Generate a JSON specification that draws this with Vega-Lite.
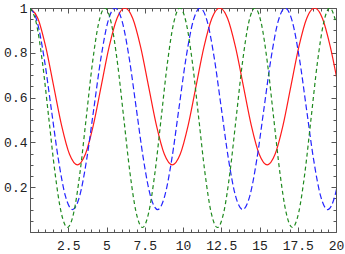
{
  "$schema": "https://vega.github.io/schema/vega-lite/v6.json",
  "width": 306,
  "height": 224,
  "autosize": "none",
  "padding": {"left": 30, "top": 8, "right": 9, "bottom": 22},
  "background": "white",
  "config": {
    "view": {"stroke": "#555", "strokeWidth": 1},
    "axis": {"grid": false, "domain": false, "title": null, "tickColor": "#555", "labelFont": "Liberation Mono", "labelFontSize": 13, "labelColor": "#222", "labelFlush": false, "labelOverlap": false, "labelBound": false}
  },
  "data": {"values": [
    {"s":"r","t":0,"v":1},{"s":"r","t":0.517,"v":0.953},{"s":"r","t":1.033,"v":0.825},{"s":"r","t":1.55,"v":0.65},{"s":"r","t":2.067,"v":0.475},{"s":"r","t":2.583,"v":0.347},{"s":"r","t":3.1,"v":0.3},{"s":"r","t":3.617,"v":0.347},{"s":"r","t":4.133,"v":0.475},{"s":"r","t":4.65,"v":0.65},{"s":"r","t":5.167,"v":0.825},{"s":"r","t":5.683,"v":0.953},
    {"s":"r","t":6.2,"v":1},{"s":"r","t":6.717,"v":0.953},{"s":"r","t":7.233,"v":0.825},{"s":"r","t":7.75,"v":0.65},{"s":"r","t":8.267,"v":0.475},{"s":"r","t":8.783,"v":0.347},{"s":"r","t":9.3,"v":0.3},{"s":"r","t":9.817,"v":0.347},{"s":"r","t":10.333,"v":0.475},{"s":"r","t":10.85,"v":0.65},{"s":"r","t":11.367,"v":0.825},{"s":"r","t":11.883,"v":0.953},
    {"s":"r","t":12.4,"v":1},{"s":"r","t":12.917,"v":0.953},{"s":"r","t":13.433,"v":0.825},{"s":"r","t":13.95,"v":0.65},{"s":"r","t":14.467,"v":0.475},{"s":"r","t":14.983,"v":0.347},{"s":"r","t":15.5,"v":0.3},{"s":"r","t":16.017,"v":0.347},{"s":"r","t":16.533,"v":0.475},{"s":"r","t":17.05,"v":0.65},{"s":"r","t":17.567,"v":0.825},{"s":"r","t":18.083,"v":0.953},
    {"s":"r","t":18.6,"v":1},{"s":"r","t":19.117,"v":0.953},{"s":"r","t":19.633,"v":0.825},{"s":"r","t":20.15,"v":0.65},
    {"s":"b","t":0,"v":1},{"s":"b","t":0.463,"v":0.94},{"s":"b","t":0.927,"v":0.775},{"s":"b","t":1.39,"v":0.55},{"s":"b","t":1.853,"v":0.325},{"s":"b","t":2.317,"v":0.16},{"s":"b","t":2.78,"v":0.1},{"s":"b","t":3.243,"v":0.16},{"s":"b","t":3.707,"v":0.325},{"s":"b","t":4.17,"v":0.55},{"s":"b","t":4.633,"v":0.775},{"s":"b","t":5.097,"v":0.94},
    {"s":"b","t":5.56,"v":1},{"s":"b","t":6.023,"v":0.94},{"s":"b","t":6.487,"v":0.775},{"s":"b","t":6.95,"v":0.55},{"s":"b","t":7.413,"v":0.325},{"s":"b","t":7.877,"v":0.16},{"s":"b","t":8.34,"v":0.1},{"s":"b","t":8.803,"v":0.16},{"s":"b","t":9.267,"v":0.325},{"s":"b","t":9.73,"v":0.55},{"s":"b","t":10.193,"v":0.775},{"s":"b","t":10.657,"v":0.94},
    {"s":"b","t":11.12,"v":1},{"s":"b","t":11.583,"v":0.94},{"s":"b","t":12.047,"v":0.775},{"s":"b","t":12.51,"v":0.55},{"s":"b","t":12.973,"v":0.325},{"s":"b","t":13.437,"v":0.16},{"s":"b","t":13.9,"v":0.1},{"s":"b","t":14.363,"v":0.16},{"s":"b","t":14.827,"v":0.325},{"s":"b","t":15.29,"v":0.55},{"s":"b","t":15.753,"v":0.775},{"s":"b","t":16.217,"v":0.94},
    {"s":"b","t":16.68,"v":1},{"s":"b","t":17.143,"v":0.94},{"s":"b","t":17.607,"v":0.775},{"s":"b","t":18.07,"v":0.55},{"s":"b","t":18.533,"v":0.325},{"s":"b","t":18.997,"v":0.16},{"s":"b","t":19.46,"v":0.1},{"s":"b","t":19.923,"v":0.16},{"s":"b","t":20.387,"v":0.325},
    {"s":"g","t":0,"v":1},{"s":"g","t":0.408,"v":0.934},{"s":"g","t":0.817,"v":0.755},{"s":"g","t":1.225,"v":0.51},{"s":"g","t":1.633,"v":0.265},{"s":"g","t":2.042,"v":0.086},{"s":"g","t":2.45,"v":0.02},{"s":"g","t":2.858,"v":0.086},{"s":"g","t":3.267,"v":0.265},{"s":"g","t":3.675,"v":0.51},{"s":"g","t":4.083,"v":0.755},{"s":"g","t":4.492,"v":0.934},
    {"s":"g","t":4.9,"v":1},{"s":"g","t":5.308,"v":0.934},{"s":"g","t":5.717,"v":0.755},{"s":"g","t":6.125,"v":0.51},{"s":"g","t":6.533,"v":0.265},{"s":"g","t":6.942,"v":0.086},{"s":"g","t":7.35,"v":0.02},{"s":"g","t":7.758,"v":0.086},{"s":"g","t":8.167,"v":0.265},{"s":"g","t":8.575,"v":0.51},{"s":"g","t":8.983,"v":0.755},{"s":"g","t":9.392,"v":0.934},
    {"s":"g","t":9.8,"v":1},{"s":"g","t":10.208,"v":0.934},{"s":"g","t":10.617,"v":0.755},{"s":"g","t":11.025,"v":0.51},{"s":"g","t":11.433,"v":0.265},{"s":"g","t":11.842,"v":0.086},{"s":"g","t":12.25,"v":0.02},{"s":"g","t":12.658,"v":0.086},{"s":"g","t":13.067,"v":0.265},{"s":"g","t":13.475,"v":0.51},{"s":"g","t":13.883,"v":0.755},{"s":"g","t":14.292,"v":0.934},
    {"s":"g","t":14.7,"v":1},{"s":"g","t":15.108,"v":0.934},{"s":"g","t":15.517,"v":0.755},{"s":"g","t":15.925,"v":0.51},{"s":"g","t":16.333,"v":0.265},{"s":"g","t":16.742,"v":0.086},{"s":"g","t":17.15,"v":0.02},{"s":"g","t":17.558,"v":0.086},{"s":"g","t":17.967,"v":0.265},{"s":"g","t":18.375,"v":0.51},{"s":"g","t":18.783,"v":0.755},{"s":"g","t":19.192,"v":0.934},
    {"s":"g","t":19.6,"v":1},{"s":"g","t":20.008,"v":0.934}
  ]},
  "resolve": {"axis": {"x": "independent", "y": "independent"}},
  "layer": [
    {
      "transform": [{"filter": "datum.s === 'r'"}],
      "mark": {"type": "line", "clip": true, "interpolate": "monotone", "color": "#ff1a1a", "strokeWidth": 1.2},
      "encoding": {
        "x": {"field": "t", "type": "quantitative", "scale": {"domain": [0, 20], "nice": false, "zero": false},
              "axis": {"orient": "bottom", "values": [2.5, 5, 7.5, 10, 12.5, 15, 17.5, 20], "format": ".4~g", "ticks": false, "labelPadding": 7}},
        "y": {"field": "v", "type": "quantitative", "scale": {"domain": [0, 1], "nice": false},
              "axis": {"orient": "left", "values": [0.2, 0.4, 0.6, 0.8, 1], "format": ".4~g", "ticks": false, "labelPadding": 3}}
      }
    },
    {
      "transform": [{"filter": "datum.s === 'b'"}],
      "mark": {"type": "line", "clip": true, "interpolate": "monotone", "color": "#2424ff", "strokeWidth": 1.2, "strokeDash": [6, 3]},
      "encoding": {
        "x": {"field": "t", "type": "quantitative", "axis": {"orient": "bottom", "values": [0, 2.5, 5, 7.5, 10, 12.5, 15, 17.5, 20], "labels": false, "tickSize": -5}},
        "y": {"field": "v", "type": "quantitative", "axis": {"orient": "left", "values": [0, 0.2, 0.4, 0.6, 0.8, 1], "labels": false, "tickSize": -5}}
      }
    },
    {
      "transform": [{"filter": "datum.s === 'g'"}],
      "mark": {"type": "line", "clip": true, "interpolate": "monotone", "color": "#1f8a1f", "strokeWidth": 1.2, "strokeDash": [4, 3]},
      "encoding": {
        "x": {"field": "t", "type": "quantitative", "axis": {"orient": "bottom", "values": [0.5, 1, 1.5, 2, 3, 3.5, 4, 4.5, 5.5, 6, 6.5, 7, 8, 8.5, 9, 9.5, 10.5, 11, 11.5, 12, 13, 13.5, 14, 14.5, 15.5, 16, 16.5, 17, 18, 18.5, 19, 19.5], "labels": false, "tickSize": -3}},
        "y": {"field": "v", "type": "quantitative", "axis": {"orient": "left", "values": [0.05, 0.1, 0.15, 0.25, 0.3, 0.35, 0.45, 0.5, 0.55, 0.65, 0.7, 0.75, 0.85, 0.9, 0.95], "labels": false, "tickSize": -3}}
      }
    },
    {
      "transform": [{"filter": "datum.s === 'r'"}],
      "mark": {"type": "line", "clip": true, "opacity": 0},
      "encoding": {
        "x": {"field": "t", "type": "quantitative", "axis": {"orient": "top", "values": [0, 2.5, 5, 7.5, 10, 12.5, 15, 17.5, 20], "labels": false, "tickSize": -5}},
        "y": {"field": "v", "type": "quantitative", "axis": {"orient": "right", "values": [0, 0.2, 0.4, 0.6, 0.8, 1], "labels": false, "tickSize": -5}}
      }
    },
    {
      "transform": [{"filter": "datum.s === 'r'"}],
      "mark": {"type": "line", "clip": true, "opacity": 0},
      "encoding": {
        "x": {"field": "t", "type": "quantitative", "axis": {"orient": "top", "values": [0.5, 1, 1.5, 2, 3, 3.5, 4, 4.5, 5.5, 6, 6.5, 7, 8, 8.5, 9, 9.5, 10.5, 11, 11.5, 12, 13, 13.5, 14, 14.5, 15.5, 16, 16.5, 17, 18, 18.5, 19, 19.5], "labels": false, "tickSize": -3}},
        "y": {"field": "v", "type": "quantitative", "axis": {"orient": "right", "values": [0.05, 0.1, 0.15, 0.25, 0.3, 0.35, 0.45, 0.5, 0.55, 0.65, 0.7, 0.75, 0.85, 0.9, 0.95], "labels": false, "tickSize": -3}}
      }
    }
  ]
}
